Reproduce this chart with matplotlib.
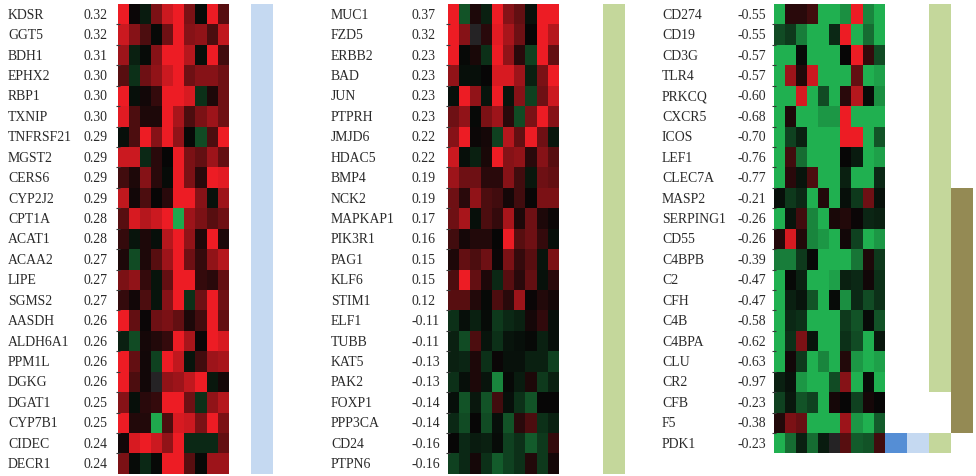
import numpy as np
import matplotlib
matplotlib.use("Agg")
import matplotlib.pyplot as plt
from matplotlib.colors import LinearSegmentedColormap, ListedColormap
from matplotlib import transforms

nan = np.nan

# ---------------- data ----------------
genes_1 = ["KDSR", "GGT5", "BDH1", "EPHX2", "RBP1", "TXNIP", "TNFRSF21", "MGST2",
           "CERS6", "CYP2J2", "CPT1A", "ACAT1", "ACAA2", "LIPE", "SGMS2", "AASDH",
           "ALDH6A1", "PPM1L", "DGKG", "DGAT1", "CYP7B1", "CIDEC", "DECR1"]
scores_1 = ["0.32", "0.32", "0.31", "0.30", "0.30", "0.30", "0.29", "0.29", "0.29",
            "0.29", "0.28", "0.28", "0.27", "0.27", "0.27", "0.26", "0.26", "0.26",
            "0.26", "0.25", "0.25", "0.24", "0.24"]
expr_1 = [
    [1.0, 0.02, -0.12, 0.5, 0.85, 1.0, 0.5, -0.03, 1.0, 0.35],
    [0.85, 0.55, 0.3, -0.02, 0.45, 1.0, 0.55, 0.6, 0.3, 0.8],
    [0.65, -0.15, -0.03, 0.55, 1.0, 1.0, 0.75, -0.05, 1.0, 0.25],
    [0.35, -0.25, 0.45, 0.6, 0.85, 1.0, 0.45, 0.55, 0.55, 0.45],
    [1.0, -0.05, 0.05, 0.2, 1.0, 1.0, 0.9, -0.25, 0.1, 0.45],
    [0.95, 0.3, 0.1, 0.1, 1.0, 0.7, 0.3, 0.5, 0.65, 0.45],
    [-0.05, 0.3, 1.0, 0.55, 1.0, 0.6, -0.02, -0.4, 0.3, 1.0],
    [0.85, 0.85, -0.2, 0.15, 0.0, 1.0, 0.5, 0.4, 0.65, 0.4],
    [0.25, 0.1, 0.55, 0.15, -0.03, 1.0, 0.5, 0.15, 1.0, 0.95],
    [0.8, 0.05, 0.3, 0.0, 0.15, 1.0, 1.0, 0.55, -0.07, 0.65],
    [0.35, 0.9, 0.75, 0.85, 1.0, -0.95, 0.65, 0.5, 0.35, 0.45],
    [0.2, -0.08, 0.1, -0.05, 0.75, 1.0, 0.6, 0.1, 1.0, 0.1],
    [0.1, -0.4, 0.1, 0.35, 0.65, 1.0, 0.45, 0.2, 0.6, 0.75],
    [0.5, 0.6, 0.2, -0.08, 0.4, 1.0, 1.0, 0.2, 0.15, 0.4],
    [0.2, 0.05, 0.3, -0.08, 0.55, 1.0, -0.25, 0.45, 1.0, 0.45],
    [1.0, 0.4, 0.02, 0.45, 0.5, 0.4, 0.1, 0.25, 1.0, 0.4],
    [-0.15, -0.4, 0.07, 0.12, 0.2, 1.0, 0.7, 0.02, 1.0, 0.9],
    [1.0, 0.4, 0.05, -0.35, 1.0, 0.8, -0.08, 0.25, 0.65, 0.7],
    [1.0, 0.3, 0.05, nan, 0.6, 0.65, 0.8, 1.0, -0.1, 0.07],
    [0.55, -0.05, 0.15, 0.2, 1.0, 1.0, 0.45, -0.25, 0.6, 0.75],
    [1.0, 0.12, 0.12, -0.95, 0.3, 0.9, 0.85, 0.5, 1.0, 0.5],
    [0.05, 0.9, 1.0, 0.85, 0.6, 1.0, -0.2, -0.2, -0.2, 0.4],
    [0.5, -0.03, -0.2, -0.02, 1.0, 1.0, 0.35, -0.02, 0.65, 0.65],
]
groups_1 = ["B"] * 23

genes_2 = ["MUC1", "FZD5", "ERBB2", "BAD", "JUN", "PTPRH", "JMJD6", "HDAC5", "BMP4",
           "NCK2", "MAPKAP1", "PIK3R1", "PAG1", "KLF6", "STIM1", "ELF1", "TUBB",
           "KAT5", "PAK2", "FOXP1", "PPP3CA", "CD24", "PTPN6"]
scores_2 = ["0.37", "0.32", "0.23", "0.23", "0.23", "0.23", "0.22", "0.22", "0.19",
            "0.19", "0.17", "0.16", "0.15", "0.15", "0.12", "-0.11", "-0.11", "-0.13",
            "-0.13", "-0.14", "-0.14", "-0.16", "-0.16"]
expr_2 = [
    [1.0, -0.45, 0.1, -0.15, 1.0, 0.55, 0.4, -0.07, 1.0, 1.0],
    [1.0, 0.55, nan, 0.15, 0.95, 0.7, 0.45, 0.0, 1.0, 0.75],
    [1.0, -0.02, 0.08, -0.25, 1.0, 0.6, 0.15, -0.35, 1.0, 0.4],
    [0.6, -0.05, -0.05, 0.0, 0.9, 0.9, 0.65, -0.15, 0.5, 1.0],
    [-0.05, 1.0, 0.6, -0.08, 1.0, -0.08, 0.55, -0.35, 0.45, 0.85],
    [0.45, 0.6, -0.02, 0.5, 0.65, 0.15, -0.4, 0.5, 1.0, 0.55],
    [0.55, 1.0, 0.03, 0.07, -0.35, 0.75, 0.4, 1.0, 0.45, -0.1],
    [0.85, -0.05, -0.15, 0.08, 1.0, 0.55, 0.6, 0.15, 0.55, 0.35],
    [0.65, 0.45, 0.45, 0.15, 0.15, 0.55, 0.25, -0.1, 0.45, 0.4],
    [0.45, 0.15, 0.6, 0.3, 0.25, 0.07, 0.25, 0.01, 0.5, 0.5],
    [0.45, 0.7, -0.05, 0.3, 0.2, 0.7, 0.1, 0.45, 0.1, 0.03],
    [0.25, 0.07, 0.12, 0.12, 0.0, 1.0, 0.35, 0.45, 0.2, -0.05],
    [0.1, 0.4, 0.3, 0.45, 0.02, 0.5, 0.2, 0.35, -0.08, 0.5],
    [0.3, 1.0, 0.4, 0.1, -0.2, 0.35, 0.15, 0.4, -0.07, 0.15],
    [0.35, 0.35, 0.12, -0.02, 0.3, 0.15, 0.65, 0.02, 0.12, 0.07],
    [-0.25, -0.05, -0.15, -0.03, -0.3, -0.2, -0.15, 0.07, 0.18, -0.05],
    [-0.15, -0.4, 0.3, -0.08, -0.25, -0.08, -0.05, -0.02, -0.15, -0.05],
    [-0.15, -0.18, 0.1, -0.25, 0.02, -0.07, -0.07, -0.15, -0.15, -0.35],
    [-0.25, -0.05, 0.1, -0.08, -0.75, -0.02, -0.12, 0.1, -0.3, -0.15],
    [-0.05, -0.45, -0.1, -0.45, 0.25, -0.05, -0.25, -0.45, 0.0, 0.0],
    [-0.2, -0.4, 0.0, -0.4, -0.05, -0.45, 0.15, 0.3, -0.25, -0.15],
    [0.0, -0.2, -0.12, -0.15, -0.03, -0.35, -0.25, -0.5, -0.3, 0.2],
    [-0.35, -0.2, 0.07, -0.25, -0.5, -0.35, -0.25, 0.12, -0.3, 0.07],
]
groups_2 = ["C"] * 23

genes_3 = ["CD274", "CD19", "CD3G", "TLR4", "PRKCQ", "CXCR5", "ICOS", "LEF1", "CLEC7A",
           "MASP2", "SERPING1", "CD55", "C4BPB", "C2", "CFH", "C4B", "C4BPA", "CLU",
           "CR2", "CFB", "F5", "PDK1"]
scores_3 = ["-0.55", "-0.55", "-0.57", "-0.57", "-0.60", "-0.68", "-0.70", "-0.76",
            "-0.77", "-0.21", "-0.26", "-0.26", "-0.39", "-0.47", "-0.47", "-0.58",
            "-0.62", "-0.63", "-0.97", "-0.23", "-0.38", "-0.23"]
expr_3 = [
    [-1.0, 0.15, 0.15, 0.25, -1.0, -1.0, -0.8, 1.0, -0.75, -1.0],
    [-0.4, -0.3, -0.7, -1.0, -1.0, -0.2, 1.0, -1.0, -0.6, -1.0],
    [-1.0, -1.0, -0.03, -1.0, -1.0, -1.0, 0.0, 1.0, 0.2, -0.4],
    [-1.0, 0.65, 0.12, 0.85, -1.0, -1.0, -1.0, 0.4, -1.0, -0.9],
    [-1.0, -1.0, 0.9, -1.0, -0.4, -1.0, 0.15, 0.75, -0.03, -0.8],
    [-1.0, 0.1, -1.0, -1.0, -0.85, -0.85, 1.0, -1.0, -1.0, -1.0],
    [-1.0, -0.35, -0.15, -1.0, -1.0, -1.0, 1.0, 1.0, -1.0, -0.45],
    [-1.0, 0.25, -0.6, -1.0, -1.0, -1.0, 0.0, -0.12, -1.0, -0.9],
    [-1.0, 0.15, -0.08, 0.3, -1.0, -1.0, -0.15, -1.0, -1.0, -0.2],
    [-0.05, -0.3, -0.2, -1.0, 0.12, -1.0, -0.05, -0.3, 0.45, -0.07],
    [-1.0, -0.08, 0.25, -0.75, -1.0, 0.08, 0.12, 0.02, -0.18, -0.15],
    [0.12, 0.9, 0.12, -0.75, -0.85, -1.0, 0.05, -0.35, -1.0, -0.85],
    [-0.7, -0.7, -0.3, -0.02, -1.0, -1.0, -1.0, -0.65, 0.1, -0.3],
    [-1.0, -0.02, -0.15, -1.0, -1.0, -0.9, -0.15, -0.2, 0.05, -0.25],
    [-1.0, -0.15, -0.08, -0.45, -1.0, -0.03, -0.8, -0.2, -0.4, -0.25],
    [-1.0, -0.2, -0.25, -1.0, -1.0, -1.0, -0.3, -0.45, -0.03, -0.45],
    [-1.0, -0.25, 0.5, -0.08, -1.0, -1.0, -0.25, -0.4, -1.0, -0.1],
    [-1.0, 0.05, -0.3, -1.0, -0.75, -1.0, 0.12, -0.85, -1.0, -0.9],
    [-0.15, -0.07, -0.85, -1.0, -1.0, -0.4, 0.55, -1.0, -0.03, -1.0],
    [-0.35, -0.1, -0.45, -0.35, -1.0, 0.07, 0.0, -0.35, 0.07, 0.0],
    [0.12, 0.5, 0.42, -1.0, -1.0, -1.0, 0.65, -0.85, -1.0, -0.5],
    [-1.0, -0.6, -0.15, -0.6, -0.12, nan, 0.35, -0.5, -0.45, 0.25],
]
groups_3 = ["C"] * 9 + ["CD"] * 10 + ["D"] * 2 + ["ABC"]

group_keys = ["A", "B", "C", "D"]
group_colors = ["#558ED5", "#C5D9F1", "#C4D79B", "#948A54"]

# ---------------- styling ----------------
cmap = LinearSegmentedColormap.from_list(
    "grn_blk_red", [(0.0, "#20B050"), (0.5, "#060606"), (1.0, "#ED1C24")])
cmap.set_bad("#252325")
ann_cmap = ListedColormap(group_colors)

W, H = 976, 477
fig = plt.figure(figsize=(W / 100, H / 100), dpi=100)

unit = 11.07      # pixel width of one heatmap column
row_h = 20.43     # pixel height of one row
top_px = 5
n_hm = 10
ann_w = 2         # each annotation column spans two heatmap widths

panels = [
    (genes_1, scores_1, expr_1, groups_1, 118, 8, 83),
    (genes_2, scores_2, expr_2, groups_2, 448, 331, 411),
    (genes_3, scores_3, expr_3, groups_3, 774, 662, 737),
]

text_kw = dict(family=["Liberation Serif", "DejaVu Serif"], fontsize=9.9,
               color="#2a2a2a", va="center", ha="left")

for genes, scores, expr, groups, x0, gx, sx in panels:
    n = len(genes)
    total_units = n_hm + ann_w * len(group_keys)
    left = x0 / W
    width = total_units * unit / W
    height = n * row_h / H
    bottom = 1 - (top_px + n * row_h) / H
    ax = fig.add_axes([left, bottom, width, height])

    data = np.ma.masked_invalid(np.array(expr, dtype=float))
    ax.pcolormesh(np.arange(n_hm + 1), np.arange(n + 1), data,
                  cmap=cmap, vmin=-1, vmax=1, shading="flat")

    # annotation columns
    ann = np.full((n, len(group_keys)), np.nan)
    for r, g in enumerate(groups):
        for k, key in enumerate(group_keys):
            if key in g:
                ann[r, k] = k
    ann_x = n_hm + ann_w * np.arange(len(group_keys) + 1)
    ax.pcolormesh(ann_x, np.arange(n + 1), np.ma.masked_invalid(ann),
                  cmap=ann_cmap, vmin=-0.5, vmax=len(group_keys) - 0.5,
                  shading="flat")

    ax.set_xlim(0, total_units)
    ax.set_ylim(n, 0)
    for s in ax.spines.values():
        s.set_visible(False)
    ax.set_xticks([])
    ax.set_yticks(np.arange(1, n))
    ax.tick_params(axis="y", direction="inout", length=2.5, width=0.8,
                   color="#3a3a3a", labelleft=False)

    trans = transforms.blended_transform_factory(fig.transFigure, ax.transData)
    for r in range(n):
        fig.text(gx / W, r + 0.5, genes[r], transform=trans, **text_kw)
        fig.text(sx / W, r + 0.5, scores[r], transform=trans, **text_kw)

fig.savefig("out.png", dpi=100, facecolor="white")
